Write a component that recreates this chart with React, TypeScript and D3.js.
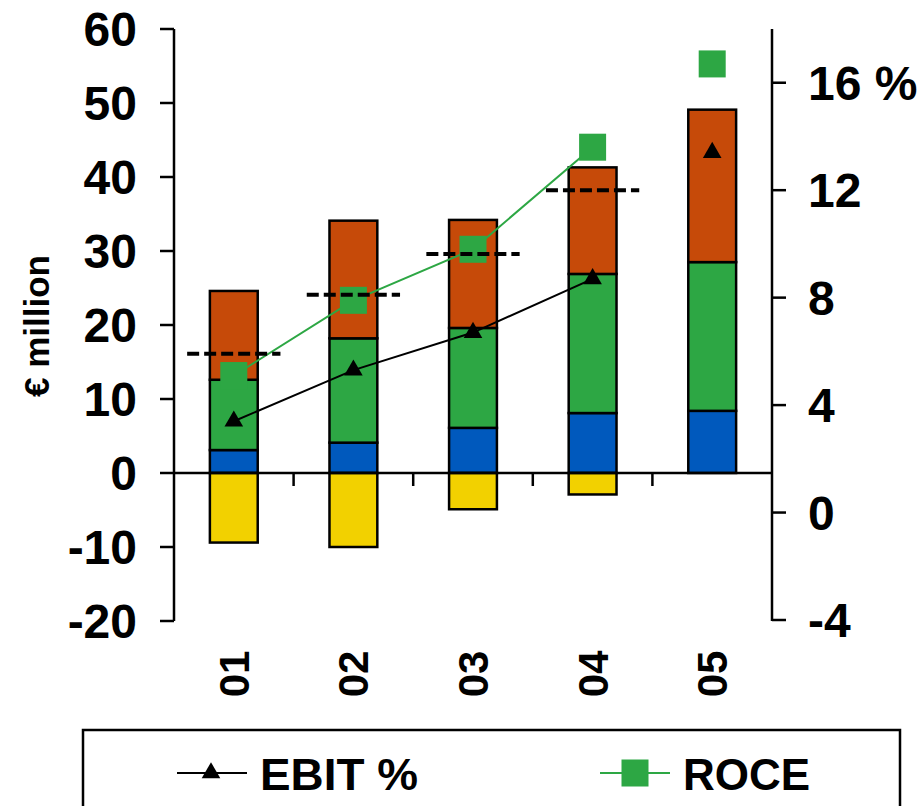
import React from "react";
import * as d3 from "d3";

const categories = ["01", "02", "03", "04", "05"];
const blueValues = [3.1, 4.1, 6.1, 8.1, 8.4];
const greenValues = [9.5, 14.1, 13.5, 18.8, 20.1];
const orangeValues = [12.0, 15.9, 14.6, 14.4, 20.6];
const yellowValues = [-9.4, -10.0, -4.9, -2.9, 0];
const dashedValues: (number | null)[] = [16.1, 24.1, 29.6, 38.2, null];
const ebitValues = [3.4, 5.3, 6.7, 8.7, 13.4];
const roceValues = [5.1, 7.9, 9.8, 13.6, 16.7];
const lineConnected = [true, true, true, true, false];
const leftTicks = [-20, -10, 0, 10, 20, 30, 40, 50, 60];
const rightTicks = [-4, 0, 4, 8, 12, 16];
const rightTickLabels = ["-4", "0", "4", "8", "12", "16 %"];

const COLORS = {
  blue: "#0059BD",
  green: "#2DA744",
  orange: "#C64A09",
  yellow: "#F2D100",
  roce: "#2DA744",
};

const FONT = "'Liberation Sans', Arial, sans-serif";

export default function App() {
  const W = 920;
  const H = 806;
  const x0 = 174;
  const x1 = 772;
  const yTop = 29;
  const yBot = 621;

  const x = d3.scaleBand<string>().domain(categories).range([x0, x1]).paddingInner(0).paddingOuter(0);
  const yL = d3.scaleLinear().domain([-20, 60]).range([yBot, yTop]);
  const yR = d3.scaleLinear().domain([-4, 18]).range([620, yTop]);

  const bw = x.bandwidth() * 0.4;
  const dw = x.bandwidth() * 0.78;
  const cx = (c: string) => (x(c) as number) + x.bandwidth() / 2;

  const bars: { c: string; lo: number; hi: number; color: string }[] = [];
  categories.forEach((c, i) => {
    const b = blueValues[i];
    const g = b + greenValues[i];
    const o = g + orangeValues[i];
    bars.push({ c, lo: 0, hi: b, color: COLORS.blue });
    bars.push({ c, lo: b, hi: g, color: COLORS.green });
    bars.push({ c, lo: g, hi: o, color: COLORS.orange });
    if (yellowValues[i] < 0) bars.push({ c, lo: yellowValues[i], hi: 0, color: COLORS.yellow });
  });

  const ebitLine = d3
    .line<number>()
    .defined((_, i) => lineConnected[i])
    .x((_, i) => cx(categories[i]))
    .y((d) => yR(d));
  const roceLine = d3
    .line<number>()
    .defined((_, i) => lineConnected[i])
    .x((_, i) => cx(categories[i]))
    .y((d) => yR(d));

  const tri = d3.symbol().type(d3.symbolTriangle).size(150);
  const sq = 27;

  return (
    <svg
      width={W}
      height={H}
      style={{ position: "absolute", left: 0, top: 0, background: "#fff" }}
      fontFamily={FONT}
    >
      <rect x={0} y={0} width={W} height={H} fill="#fff" />
      {/* bars */}
      {bars.map((b, i) => (
        <rect
          key={i}
          x={cx(b.c) - bw / 2}
          y={yL(b.hi)}
          width={bw}
          height={yL(b.lo) - yL(b.hi)}
          fill={b.color}
          stroke="#000"
          strokeWidth={2.5}
        />
      ))}
      {/* zero line and category ticks */}
      <line x1={x0} x2={x1} y1={yL(0)} y2={yL(0)} stroke="#000" strokeWidth={2.5} />
      {categories.slice(1).map((c) => (
        <line key={c} x1={x(c) as number} x2={x(c) as number} y1={yL(0)} y2={yL(0) + 13} stroke="#000" strokeWidth={2.5} />
      ))}
      {/* left axis */}
      <line x1={x0} x2={x0} y1={yTop} y2={yBot} stroke="#000" strokeWidth={2.5} />
      {leftTicks.map((t) => (
        <g key={t}>
          <line x1={x0 - 14} x2={x0} y1={yL(t)} y2={yL(t)} stroke="#000" strokeWidth={2.5} />
          <text x={137} y={yL(t)} dy="0.36em" textAnchor="end" fontSize={48} fontWeight="bold">
            {t}
          </text>
        </g>
      ))}
      {/* right axis */}
      <line x1={x1} x2={x1} y1={yTop} y2={yBot} stroke="#000" strokeWidth={2.5} />
      {rightTicks.map((t, i) => (
        <g key={t}>
          <line x1={x1} x2={x1 + 14} y1={yR(t)} y2={yR(t)} stroke="#000" strokeWidth={2.5} />
          <text x={808} y={yR(t)} dy="0.36em" textAnchor="start" fontSize={48} fontWeight="bold">
            {rightTickLabels[i]}
          </text>
        </g>
      ))}
      {/* y-axis title */}
      <text
        transform={`translate(49, 326) rotate(-90)`}
        textAnchor="middle"
        fontSize={35}
        fontWeight="bold"
      >
        € million
      </text>
      {/* category labels */}
      {categories.map((c) => (
        <text
          key={c}
          transform={`translate(${cx(c) + 15}, 674) rotate(-90)`}
          textAnchor="middle"
          fontSize={42}
          fontWeight="bold"
        >
          {c}
        </text>
      ))}
      {/* ROCE line + markers */}
      <path d={roceLine(roceValues) || ""} fill="none" stroke={COLORS.roce} strokeWidth={2} />
      {roceValues.map((v, i) => (
        <rect key={i} x={cx(categories[i]) - sq / 2} y={yR(v) - sq / 2} width={sq} height={sq} fill={COLORS.roce} />
      ))}
      {/* EBIT line + markers */}
      <path d={ebitLine(ebitValues) || ""} fill="none" stroke="#000" strokeWidth={2} />
      {ebitValues.map((v, i) => (
        <path key={i} d={tri() || ""} transform={`translate(${cx(categories[i])}, ${yR(v)})`} fill="#000" />
      ))}
      {/* dashed target lines */}
      {dashedValues.map((v, i) =>
        v === null ? null : (
          <line
            key={i}
            x1={cx(categories[i]) - dw / 2}
            x2={cx(categories[i]) + dw / 2}
            y1={yL(v)}
            y2={yL(v)}
            stroke="#000"
            strokeWidth={4}
            strokeDasharray="12 5"
          />
        )
      )}
      {/* legend */}
      <rect x={83} y={730} width={817} height={120} fill="none" stroke="#000" strokeWidth={2.5} />
      <line x1={177} x2={247} y1={773} y2={773} stroke="#000" strokeWidth={2} />
      <path d={tri() || ""} transform="translate(211, 773)" fill="#000" />
      <text x={260} y={790} fontSize={44} fontWeight="bold" textLength={158} lengthAdjust="spacingAndGlyphs">
        EBIT %
      </text>
      <line x1={600} x2={670} y1={773} y2={773} stroke={COLORS.roce} strokeWidth={2} />
      <rect x={635 - sq / 2} y={773 - sq / 2} width={sq} height={sq} fill={COLORS.roce} />
      <text x={683} y={790} fontSize={44} fontWeight="bold">
        ROCE
      </text>
    </svg>
  );
}
